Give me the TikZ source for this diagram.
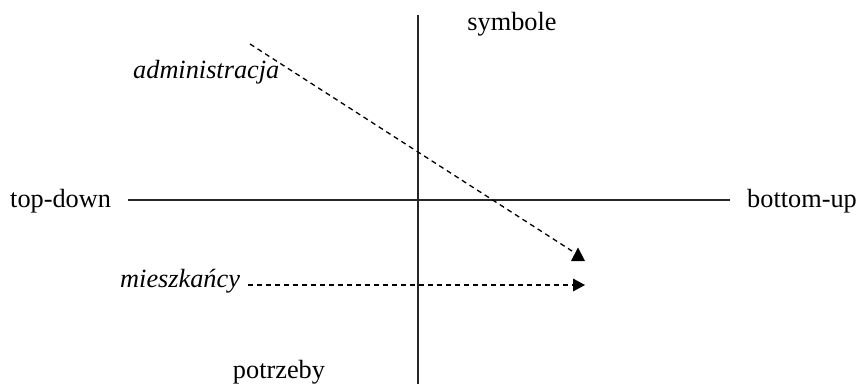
\documentclass[tikz,border=0pt]{standalone}
\usepackage{fontspec}
\setmainfont{Liberation Serif}
\begin{document}
\begin{tikzpicture}[x=1pt,y=-1pt,
  lbl/.style={inner sep=0pt,font=\fontsize{26.3}{31}\selectfont},
  axis/.style={line width=1.2pt,draw=black!85},
  dsh/.style={line width=1.3pt,dash pattern=on 5pt off 4pt},
  head/.style={fill=black}]
\useasboundingbox (0,0) rectangle (860,384);
% axes
\coordinate (vt) at (418,15);
\coordinate (vb) at (418,384);
\coordinate (hl) at (128,200);
\coordinate (hr) at (730,200);
\draw[axis] (vt) -- (vb);
\draw[axis] (hl) -- (hr);
% labels
\node[lbl,anchor=base] (sym) at (512,30) {symbole};
\node[lbl,anchor=base] (pot) at (279,378) {potrzeby};
\node[lbl,anchor=base west] (td) at (10,207) {top-down};
\node[lbl,anchor=base east] (bu) at (857,207) {bottom-up};
\node[lbl,anchor=base west] (adm) at (133,78) {\itshape administracja};
\node[lbl,anchor=base west] (mie) at (120,287) {\itshape mieszkańcy};
% arrow 1
\coordinate (a1s) at (250,44);
\coordinate (a1e) at (572,251);
\draw[dsh] (a1s) -- (a1e);
\fill[head] (578,247.5) -- (571,261) -- (585,261) -- cycle;
% arrow 2
\coordinate (a2s) at (248,285);
\coordinate (a2e) at (573,285);
\draw[dsh] (a2s) -- (a2e);
\fill[head] (573,278.5) -- (585,285) -- (573,291.5) -- cycle;
\end{tikzpicture}
\end{document}
